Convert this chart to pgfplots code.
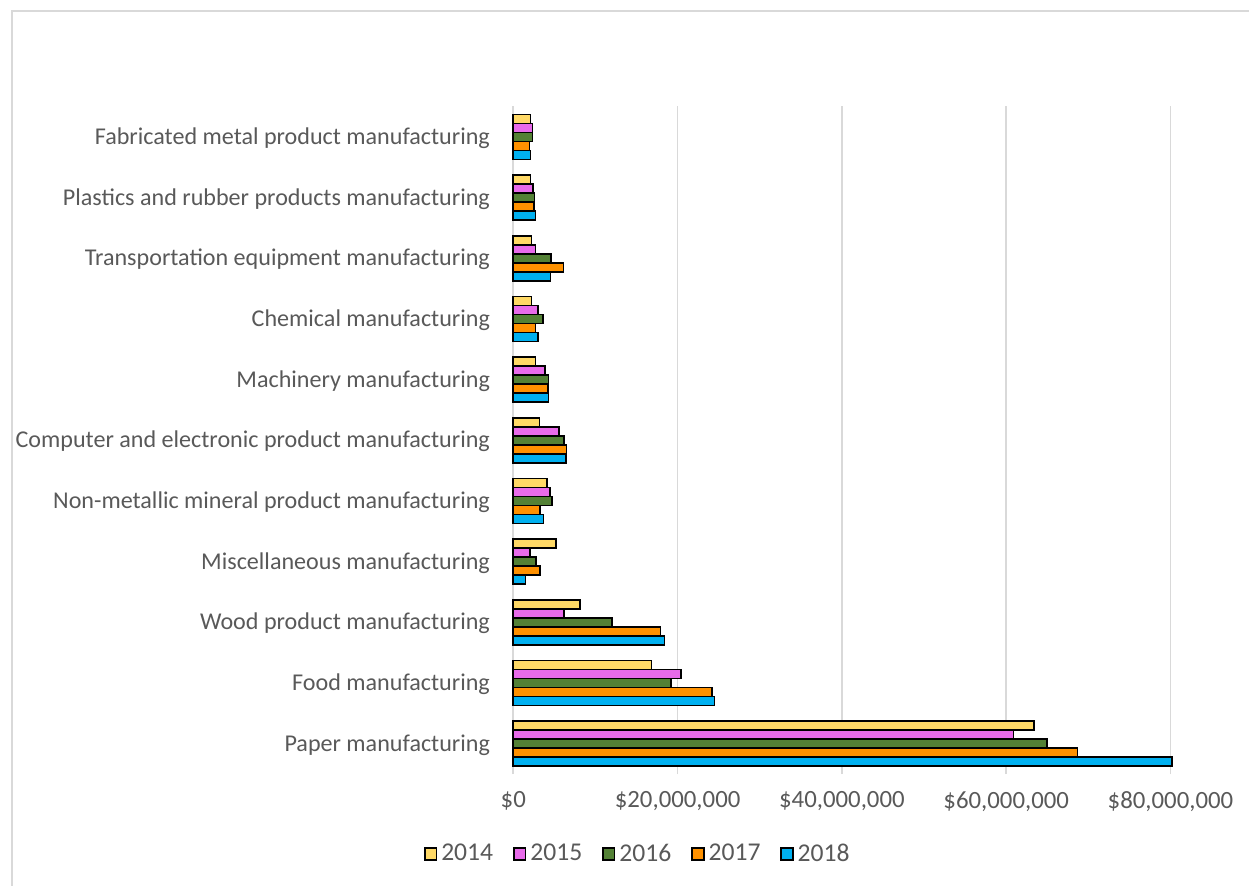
\documentclass[border=0pt]{standalone}
\usepackage{pgfplots}
\pgfplotsset{compat=1.18}
\usepackage{pgfplotstable}
\usepackage{fontspec}
\setmainfont{Carlito}
\definecolor{txt}{HTML}{595959}
\definecolor{grd}{HTML}{D9D9D9}
\definecolor{c14}{HTML}{FFD966}
\definecolor{c15}{HTML}{E86BEA}
\definecolor{c16}{HTML}{538135}
\definecolor{c17}{HTML}{FF9100}
\definecolor{c18}{HTML}{00B0F0}

% idx 0 = Paper (bottom) ... 10 = Fabricated (top)
\pgfplotstableread{
idx v2014 v2015 v2016 v2017 v2018
0  63400000 60900000 65000000 68700000 80200000
1  16800000 20400000 19200000 24200000 24500000
2  8100000  6200000  12000000 17900000 18400000
3  5200000  2000000  2800000  3250000  1500000
4  4100000  4500000  4700000  3250000  3700000
5  3200000  5600000  6200000  6500000  6450000
6  2700000  3850000  4300000  4200000  4300000
7  2200000  3000000  3600000  2700000  3000000
8  2200000  2700000  4600000  6100000  4550000
9  2100000  2400000  2600000  2550000  2700000
10 2100000  2350000  2350000  1950000  2100000
}\datatable

\begin{document}
\begin{tikzpicture}
\useasboundingbox (0,0) rectangle (624.5pt,442.5pt);
\draw[grd, line width=1pt] (6pt,-5pt) -- (6pt,437pt) -- (640pt,437pt);
\begin{axis}[
  at={(256.65pt,55.5pt)}, anchor=south west,
  scale only axis,
  width=328.6pt, height=333.75pt,
  xbar, bar width=4.5pt,
  xmin=0, xmax=80000000,
  ymin=-0.5, ymax=10.5,
  clip=false,
  scaled x ticks=false,
  xtick={0,20000000,40000000,60000000,80000000},
  xticklabels={{\$0},{\$20,000,000},{\$40,000,000},{\$60,000,000},{\$80,000,000}},
  ytick={0,...,10},
  yticklabels={Paper manufacturing,Food manufacturing,Wood product manufacturing,Miscellaneous manufacturing,Non-metallic mineral product manufacturing,Computer and electronic product manufacturing,Machinery manufacturing,Chemical manufacturing,Transportation equipment manufacturing,Plastics and rubber products manufacturing,Fabricated metal product manufacturing},
  major tick length=0pt,
  tick label style={text=txt},
  xticklabel style={font=\fontsize{12.4}{14.5}\selectfont, anchor=north, inner sep=0pt, yshift=-8.5pt},
  yticklabel style={font=\fontsize{12.05}{14.5}\selectfont, anchor=east, inner sep=0pt, xshift=-11.5pt, yshift=-0.6pt},
  axis lines*=left,
  x axis line style={draw=none},
  y axis line style={draw=grd, line width=0.9pt},
  xmajorgrids, major grid style={draw=grd, line width=0.9pt},
  legend columns=5,
  legend style={at={(0.191,-0.1199)}, anchor=center, draw=none, fill=none,
    font=\fontsize{12.8}{15}\selectfont, text=txt,
    /tikz/every even column/.append style={column sep=8pt}},
  legend cell align=left,
  legend image code/.code={\draw[#1, draw=black, line width=0.8pt] (0pt,-2.9pt) rectangle (5.8pt,2.9pt);},
  every axis plot/.append style={draw=black, line width=0.8pt},
]
\addplot[fill=c14, bar shift=9pt] table[x=v2014, y=idx] {\datatable};
\addplot[fill=c15, bar shift=4.5pt] table[x=v2015, y=idx] {\datatable};
\addplot[fill=c16, bar shift=0pt] table[x=v2016, y=idx] {\datatable};
\addplot[fill=c17, bar shift=-4.5pt] table[x=v2017, y=idx] {\datatable};
\addplot[fill=c18, bar shift=-9pt] table[x=v2018, y=idx] {\datatable};
\legend{2014,2015,2016,2017,2018}
\end{axis}
\end{tikzpicture}
\end{document}
